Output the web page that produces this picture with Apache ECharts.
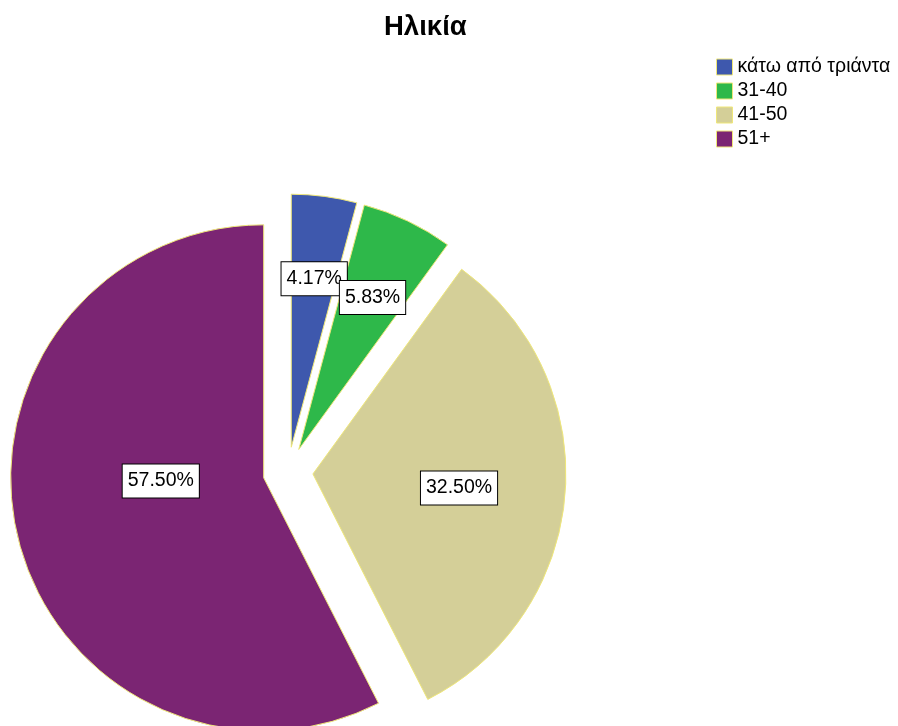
<!DOCTYPE html>
<html>
<head>
<meta charset="utf-8">
<script src="https://cdn.jsdelivr.net/npm/echarts@6/dist/echarts.min.js"></script>
<style>
  html, body { margin: 0; padding: 0; background: #ffffff; }
  #chart { width: 898px; height: 726px; }
</style>
</head>
<body>
<div id="chart"></div>
<script>
// Age groups and their share of respondents (%)
const categories = ['κάτω από τριάντα', '31-40', '41-50', '51+'];
const shares = [4.17, 5.83, 32.50, 57.50];

// Slice colours, one per age group
const sliceColors = ['#3e58ad', '#2eb84a', '#d4cf98', '#7b2573'];
// Small nudges so each value box sits where it reads best inside its slice
const labelNudges = [[6, -40], [18, -35], [17, 4], [23, -27]];

const FONT = 'Liberation Sans, Arial, sans-serif';
const chart = echarts.init(document.getElementById('chart'), null, { renderer: 'canvas' });

const pieData = categories.map((name, i) => ({
  name: name,
  value: shares[i],
  selected: true,
  itemStyle: { color: sliceColors[i] },
  select: { itemStyle: { color: sliceColors[i] } }
}));

chart.setOption({
  animation: false,
  backgroundColor: '#ffffff',
  title: {
    text: 'Ηλικία',
    left: 379,
    top: 8,
    textStyle: {
      fontFamily: FONT,
      fontSize: 27.5,
      fontWeight: 'bold',
      color: '#000000'
    }
  },
  legend: {
    orient: 'vertical',
    left: 716,
    top: 57,
    padding: 0,
    icon: 'rect',
    itemWidth: 16,
    itemHeight: 16,
    itemGap: 4,
    selectedMode: false,
    data: categories,
    itemStyle: { borderColor: '#efe77a', borderWidth: 1 },
    textStyle: {
      fontFamily: FONT,
      fontSize: 19.5,
      lineHeight: 16,
      color: '#000000'
    }
  },
  series: [{
    type: 'pie',
    center: [288, 472],
    radius: 253,
    startAngle: 90,
    clockwise: true,
    selectedMode: 'multiple',
    selectedOffset: 25,
    avoidLabelOverlap: false,
    emphasis: { disabled: true },
    itemStyle: { borderColor: '#efe77a', borderWidth: 1 },
    label: {
      show: true,
      position: 'inside',
      formatter: (p) => p.value.toFixed(2) + '%',
      fontFamily: FONT,
      fontSize: 19.5,
      lineHeight: 20,
      color: '#000000',
      backgroundColor: '#ffffff',
      borderColor: '#000000',
      borderWidth: 1,
      padding: [7, 5, 6, 5]
    },
    labelLine: { show: false },
    labelLayout: (params) => ({
      dx: labelNudges[params.dataIndex][0],
      dy: labelNudges[params.dataIndex][1],
      hideOverlap: false
    }),
    data: pieData
  }]
});
</script>
</body>
</html>
